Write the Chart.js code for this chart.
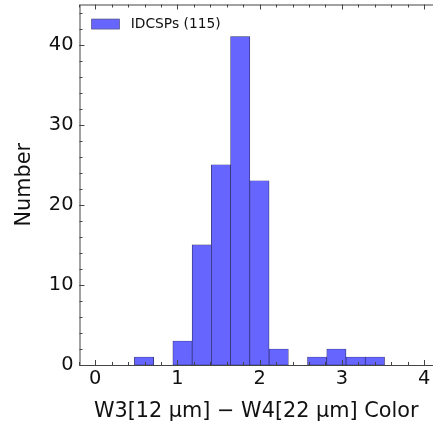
<!DOCTYPE html>
<html>
<head>
<meta charset="utf-8">
<script src="https://cdn.jsdelivr.net/npm/chart.js"></script>
<style>
    html, body { margin: 0; padding: 0; background: #ffffff; }
    #wrap { width: 433px; height: 429px; }
</style>
</head>
<body>
<div id="wrap"><canvas id="histChart" width="433" height="429"></canvas></div>
<script>
    // Histogram data
    const binEdges = [0.476, 0.710, 0.944, 1.178, 1.412, 1.646, 1.880, 2.114, 2.348, 2.582, 2.816, 3.050, 3.284, 3.518];
    const counts = [1, 0, 3, 15, 25, 41, 23, 2, 0, 1, 2, 1, 1];
    const seriesLabel = 'IDCSPs (115)';
    const xTickLabels = [0, 1, 2, 3, 4];
    const yTickLabels = [0, 10, 20, 30, 40];

    const fontFamily = "'DejaVu Sans', sans-serif";
    const frameColor = '#444444';

    const points = counts.map((c, i) => ({ x: (binEdges[i] + binEdges[i + 1]) / 2, y: c }));

    // inward ticks on every side, like the original plot
    const tickPlugin = {
        id: 'inwardTicks',
        afterDraw(chart) {
            const ctx = chart.ctx;
            const area = chart.chartArea;
            const xs = chart.scales.x;
            const ys = chart.scales.y;
            ctx.save();
            ctx.strokeStyle = frameColor;
            ctx.lineWidth = 1;
            ctx.beginPath();
            // frame (right side is cut off in the original)
            ctx.moveTo(area.left + 0.5, area.bottom + 0.5);
            ctx.lineTo(area.left + 0.5, area.top + 0.5);
            ctx.lineTo(area.right, area.top + 0.5);
            ctx.moveTo(area.left, area.bottom + 0.5);
            ctx.lineTo(area.right, area.bottom + 0.5);

            for (let v = -0.2; v <= 4.1; v += 0.2) {
                const px = Math.round(xs.getPixelForValue(v)) + 0.5;
                if (px < area.left || px > area.right) continue;
                const major = Math.abs(v - Math.round(v)) < 1e-6;
                const len = major ? 5 : 3;
                ctx.moveTo(px, area.bottom);
                ctx.lineTo(px, area.bottom - len);
                ctx.moveTo(px, area.top);
                ctx.lineTo(px, area.top + len);
            }
            for (let v = 0; v <= 45; v += 2) {
                const py = Math.round(ys.getPixelForValue(v)) + 0.5;
                ctx.moveTo(area.left, py);
                ctx.lineTo(area.left + 3, py);
            }
            for (let v = 0; v <= 45; v += 10) {
                const py = Math.round(ys.getPixelForValue(v)) + 0.5;
                ctx.moveTo(area.left, py);
                ctx.lineTo(area.left + 5, py);
            }
            ctx.stroke();
            ctx.restore();
        }
    };

    const ctx = document.getElementById('histChart').getContext('2d');
    const histChart = new Chart(ctx, {
        type: 'bar',
        data: {
            datasets: [{
                label: seriesLabel,
                data: points,
                backgroundColor: 'rgb(102, 102, 255)',
                borderColor: 'rgb(40, 40, 100)',
                borderWidth: 0.7,
                borderSkipped: false,
                barPercentage: 1.0,
                categoryPercentage: 1.0
            }]
        },
        options: {
            responsive: false,
            animation: false,
            layout: { padding: { top: 4.5, right: 0, left: 0, bottom: 0 } },
            plugins: {
                tooltip: { enabled: false },
                legend: {
                    position: 'chartArea',
                    align: 'start',
                    // empty title only used to push the entry down a little
                    title: {
                        display: true,
                        text: ' ',
                        font: { size: 1 },
                        padding: { top: 4, bottom: 0 }
                    },
                    labels: {
                        boxWidth: 28,
                        boxHeight: 10,
                        padding: 12,
                        color: '#111111',
                        font: { family: fontFamily, size: 13.8 },
                        generateLabels(chart) {
                            const ds = chart.data.datasets[0];
                            return [{
                                text: ' ' + ds.label,
                                fillStyle: ds.backgroundColor,
                                strokeStyle: 'rgb(90, 90, 140)',
                                fontColor: '#111111',
                                lineWidth: 0.8,
                                datasetIndex: 0
                            }];
                        }
                    }
                }
            },
            scales: {
                x: {
                    type: 'linear',
                    min: -0.192,
                    max: 4.108,
                    offset: false,
                    grid: { display: false, drawTicks: false },
                    border: { display: false },
                    afterBuildTicks(scale) {
                        scale.ticks = xTickLabels.map(v => ({ value: v }));
                    },
                    afterFit(scale) {
                        scale.height = 64;
                        scale.paddingLeft = 0;
                        scale.paddingRight = 0;
                    },
                    ticks: {
                        padding: 2,
                        color: '#111111',
                        maxRotation: 0,
                        font: { family: fontFamily, size: 19.4 }
                    },
                    title: {
                        display: true,
                        text: 'W3[12 μm] − W4[22 μm] Color',
                        color: '#111111',
                        padding: { top: 0, bottom: 5 },
                        font: { family: fontFamily, size: 20.8 }
                    }
                },
                y: {
                    min: 0,
                    max: 45,
                    grid: { display: false, drawTicks: false },
                    border: { display: false },
                    afterBuildTicks(scale) {
                        scale.ticks = yTickLabels.map(v => ({ value: v }));
                    },
                    afterFit(scale) {
                        scale.width = 79.5;
                        scale.paddingTop = 0;
                        scale.paddingBottom = 0;
                    },
                    ticks: {
                        padding: 6,
                        color: '#111111',
                        font: { family: fontFamily, size: 19.4 }
                    },
                    title: {
                        display: true,
                        text: 'Number',
                        color: '#111111',
                        padding: { top: 12, bottom: 0 },
                        font: { family: fontFamily, size: 20.8 }
                    }
                }
            }
        },
        plugins: [tickPlugin]
    });
</script>
</body>
</html>
